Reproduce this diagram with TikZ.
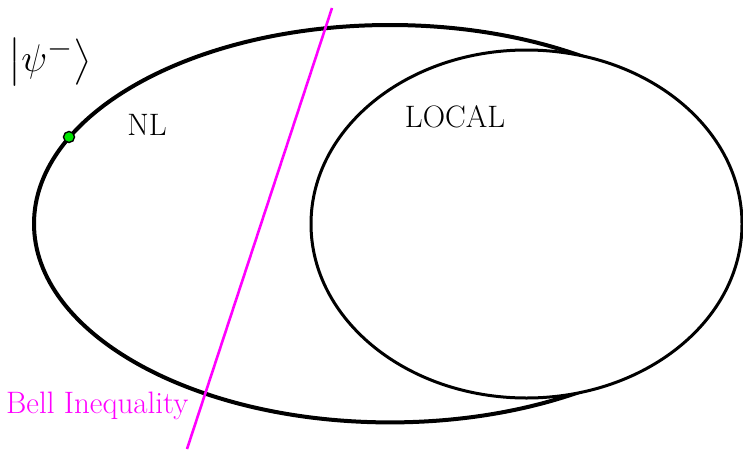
\documentclass[tikz,border=0pt]{standalone}
\usepackage{amsmath}
\usepackage{graphicx}
\usepackage{fontspec}
\definecolor{bellmag}{RGB}{255,0,255}
\definecolor{dotgreen}{RGB}{0,230,0}
\begin{document}
\begin{tikzpicture}[x=1pt,y=-1pt,
  setline/.style={line width=#1, draw=black},
  lbl/.style={font=\fontsize{31}{36}\selectfont, inner sep=0pt}]
\useasboundingbox (0,0) rectangle (743,450);
% big ellipse (non-local set)
\coordinate (bigc) at (390,223.7);
\begin{scope}
  \clip (0,0) rectangle (592,450);
  \draw[setline=4pt] (bigc) ellipse [x radius=356, y radius=198.7];
\end{scope}
% local set
\coordinate (smallc) at (526.5,224);
\filldraw[fill=white, setline=3pt] (smallc) ellipse [x radius=215.5, y radius=174];
% Bell inequality line
\coordinate (btop) at (332,8);
\coordinate (bbot) at (187,449);
\draw[bellmag, line width=2.6pt] (btop) -- (bbot);
% state dot
\node[circle, fill=dotgreen, draw=black, line width=1.4pt, minimum size=11pt, inner sep=0pt] (psi) at (69,137) {};
% labels
\node[lbl, anchor=base] (nl) at (147,135) {NL};
\node[lbl, anchor=base] (local) at (455,127) {LOCAL};
\node[lbl, text=bellmag, anchor=base west] (bell) at (6,413) {Bell Inequality};
\node[font=\fontsize{24.88}{28}\selectfont, inner sep=0pt] (ket) at (50,62) {\scalebox{1.55}{$\bigl|\psi^-\bigr\rangle$}};
\end{tikzpicture}
\end{document}
